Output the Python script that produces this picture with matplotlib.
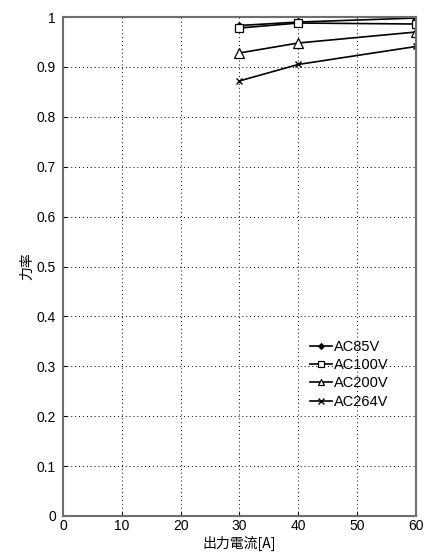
import matplotlib
matplotlib.use("Agg")
import matplotlib.pyplot as plt

plt.rcParams['font.family'] = ['Liberation Sans', 'Noto Sans CJK JP', 'DejaVu Sans']

current = [30, 40, 60]
ac85 = [0.983, 0.990, 0.998]
ac100 = [0.978, 0.988, 0.986]
ac200 = [0.928, 0.948, 0.970]
ac264 = [0.872, 0.905, 0.941]
labels = ['AC85V', 'AC100V', 'AC200V', 'AC264V']
xticks = [0, 10, 20, 30, 40, 50, 60]
yticks = [0, 0.1, 0.2, 0.3, 0.4, 0.5, 0.6, 0.7, 0.8, 0.9, 1]

fig = plt.figure(figsize=(4.25, 5.55), dpi=100)
ax = fig.add_axes([0.148, 0.0703, 0.831, 0.899])

ax.plot(current, ac85, color='black', lw=1.2, marker='D', ms=4, mfc='black', mew=0.8, label=labels[0])
ax.plot(current, ac100, color='black', lw=1.2, marker='s', ms=5.5, mfc='white', mew=0.9, label=labels[1])
ax.plot(current, ac200, color='black', lw=1.2, marker='^', ms=6.5, mfc='white', mew=0.9, label=labels[2])
ax.plot(current, ac264, color='black', lw=1.2, marker='x', ms=5, mew=1.0, label=labels[3])

ax.set_xlim(0, 60)
ax.set_ylim(0, 1)
ax.set_xticks(xticks)
ax.set_yticks(yticks)
ax.set_yticklabels(['0', '0.1', '0.2', '0.3', '0.4', '0.5', '0.6', '0.7', '0.8', '0.9', '1'])
ax.grid(True, color='black', linestyle=(0, (1, 3)), linewidth=0.7)
for s in ax.spines.values():
    s.set_color('#6e6e6e')
    s.set_linewidth(1.5)
ax.tick_params(direction='in', length=3, labelsize=10, colors='black')
ax.tick_params(axis='x', pad=2)
ax.tick_params(axis='y', pad=5)

ax.set_xlabel('出力電流[A]', fontsize=10, family=['Noto Sans CJK JP', 'DejaVu Sans'])
ax.set_ylabel('力率', fontsize=10, family=['Noto Sans CJK JP', 'DejaVu Sans'])
ax.xaxis.set_label_coords(0.5, -0.056)
ax.yaxis.set_label_coords(-0.1, 0.5)
ax.xaxis.label.set_va('center')
ax.yaxis.label.set_va('center')

ax.legend(loc='upper left', bbox_to_anchor=(0.68, 0.368), frameon=False, fontsize=10.5,
          handlelength=1.5, handletextpad=0.1, labelspacing=0.3, borderpad=0, markerscale=0.75)

fig.savefig('out.png', dpi=100)
